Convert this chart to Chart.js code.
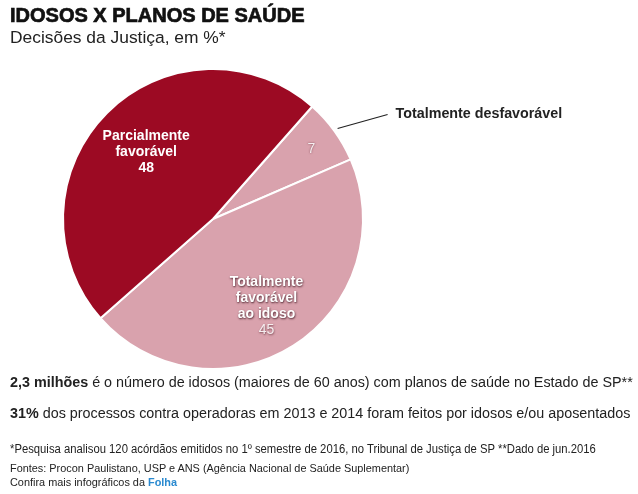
<!DOCTYPE html>
<html><head><meta charset="utf-8">
<script src="https://cdn.jsdelivr.net/npm/chart.js@4/dist/chart.umd.min.js"></script>
<style>
html,body{margin:0;padding:0;background:#fff;}
body{width:638px;height:494px;position:relative;overflow:hidden;font-family:"Liberation Sans",Arial,sans-serif;color:#222;}
#c{position:absolute;left:0;top:0;}
.t{position:absolute;white-space:nowrap;}
#title{left:10px;top:4px;font-size:20px;font-weight:bold;color:#111;-webkit-text-stroke:0.7px #111;}
#sub{left:10px;top:27px;font-size:17.4px;color:#222;}
#l1{left:10px;top:374px;font-size:14.35px;}
#l2{left:10px;top:405px;font-size:14.35px;}
#fn{left:10px;top:442px;font-size:12px;transform:scaleX(0.94);transform-origin:left;}
#src{left:10px;top:462px;font-size:10.9px;}
#more{left:10px;top:476px;font-size:10.9px;}
#more span{color:#2a8ad0;font-weight:bold;}
</style></head>
<body>
<canvas id="c" width="638" height="494"></canvas>
<div class="t" id="title">IDOSOS X PLANOS DE SAÚDE</div>
<div class="t" id="sub">Decisões da Justiça, em %*</div>
<div class="t" id="l1"><b>2,3 milhões</b> é o número de idosos (maiores de 60 anos) com planos de saúde no Estado de SP**</div>
<div class="t" id="l2"><b>31%</b> dos processos contra operadoras em 2013 e 2014 foram feitos por idosos e/ou aposentados</div>
<div class="t" id="fn">*Pesquisa analisou 120 acórdãos emitidos no 1º semestre de 2016, no Tribunal de Justiça de SP **Dado de jun.2016</div>
<div class="t" id="src">Fontes: Procon Paulistano, USP e ANS (Agência Nacional de Saúde Suplementar)</div>
<div class="t" id="more">Confira mais infográficos da <span>Folha</span></div>
<script>
const categories = ["Totalmente desfavorável", "Totalmente favorável ao idoso", "Parcialmente favorável"];
const values = [7, 45, 48];
const sliceLabels = [[], ["Totalmente", "favorável", "ao idoso"], ["Parcialmente", "favorável"]];
const colors = ["#d9a2ad", "#d9a2ad", "#9c0a23"];

const labelPlugin = {
  id: 'labels',
  afterDatasetsDraw(chart) {
    const ctx = chart.ctx;
    const meta = chart.getDatasetMeta(0);
    const fr = [0.81, 0.69, 0.63];
    meta.data.forEach((arc, i) => {
      const p = arc.getProps(['x','y','startAngle','endAngle','outerRadius'], true);
      const mid = (p.startAngle + p.endAngle) / 2;
      const r = p.outerRadius * fr[i];
      const cx = p.x + Math.cos(mid) * r - (i === 1 ? 2 : 0);
      const cy = p.y + Math.sin(mid) * r;
      const lines = sliceLabels[i];
      const n = lines.length + 1;
      const lh = 16;
      let y0 = cy - (n - 1) * lh / 2;
      ctx.save();
      ctx.textAlign = 'center';
      ctx.textBaseline = 'middle';
      const pink = i < 2;
      lines.forEach((s, k) => {
        ctx.font = 'bold 14px "Liberation Sans", Arial, sans-serif';
        if (pink) { ctx.shadowColor = 'rgba(60,20,30,0.9)'; ctx.shadowBlur = 2; ctx.shadowOffsetX = 0.5; ctx.shadowOffsetY = 0.5; }
        ctx.fillStyle = '#fff';
        ctx.fillText(s, cx, y0 + k * lh);
      });
      ctx.font = (pink ? '' : 'bold ') + '14px "Liberation Sans", Arial, sans-serif';
      if (pink) { ctx.shadowColor = 'rgba(80,30,40,0.7)'; ctx.shadowBlur = 2; ctx.fillStyle = '#f6eef0'; }
      else ctx.fillStyle = '#fff';
      ctx.fillText(String(values[i]), cx, y0 + lines.length * lh + (i === 0 ? 2 : 0));
      ctx.restore();
      if (i === 0) {
        const a = p.startAngle + (p.endAngle - p.startAngle) * 0.5;
        const sx = p.x + Math.cos(a) * (p.outerRadius + 4);
        const sy = p.y + Math.sin(a) * (p.outerRadius + 4);
        ctx.save();
        ctx.strokeStyle = '#222';
        ctx.lineWidth = 1.2;
        ctx.beginPath();
        ctx.moveTo(sx, sy);
        ctx.lineTo(sx + 50, sy - 14);
        ctx.stroke();
        ctx.font = 'bold 14.3px "Liberation Sans", Arial, sans-serif';
        ctx.fillStyle = '#222';
        ctx.textBaseline = 'middle';
        ctx.textAlign = 'left';
        ctx.fillText(categories[0], sx + 58, sy - 14);
        ctx.restore();
      }
    });
  }
};

new Chart(document.getElementById('c'), {
  type: 'pie',
  data: { labels: categories, datasets: [{ data: values, backgroundColor: colors, borderColor: '#fff', borderWidth: 2 }] },
  options: {
    responsive: false,
    animation: false,
    rotation: 41.4,
    layout: { padding: { left: 62, right: 274, top: 68, bottom: 124 } },
    plugins: { legend: { display: false }, tooltip: { enabled: false } }
  },
  plugins: [labelPlugin]
});
</script>
</body></html>
